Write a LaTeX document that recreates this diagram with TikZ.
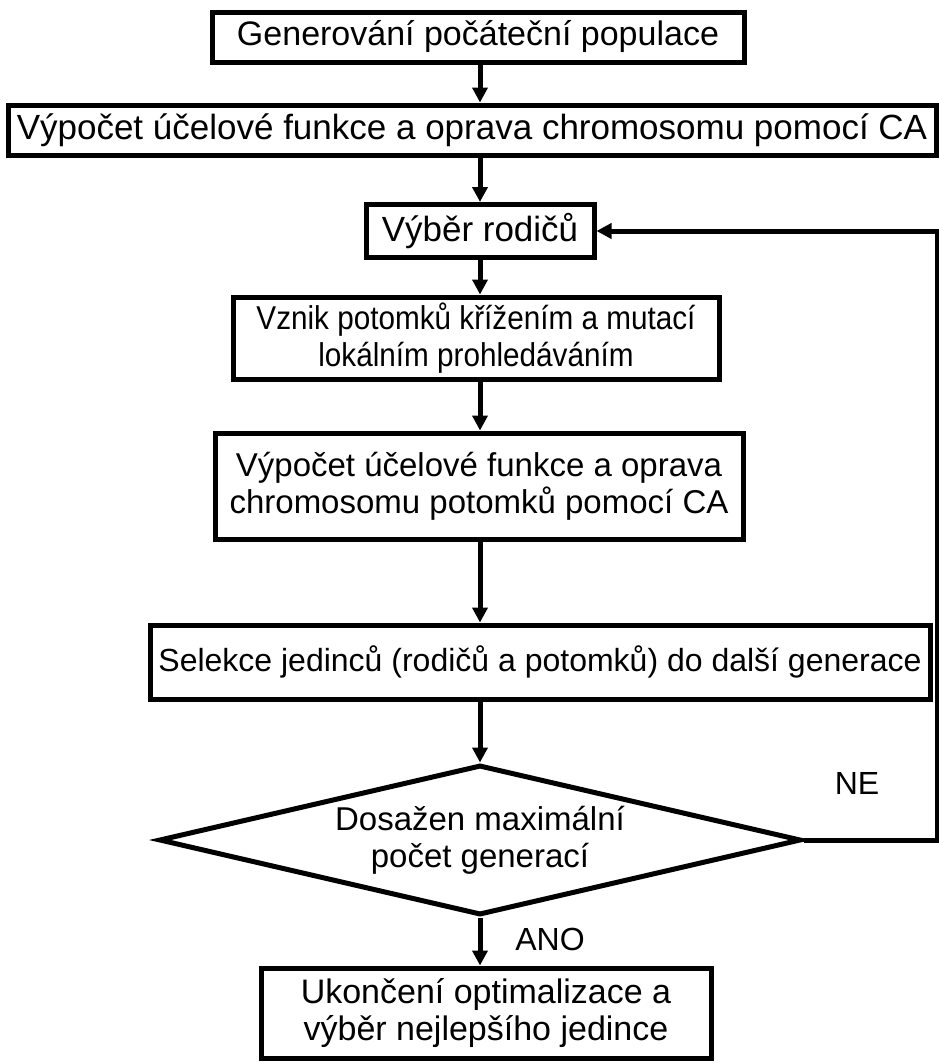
\documentclass[tikz,border=0pt]{standalone}
\usepackage{graphicx}
\usepackage{fontspec}
\setmainfont{Liberation Sans}
\usetikzlibrary{arrows.meta,shapes.geometric}

\newcommand{\fs}[1]{\fontsize{#1}{37}\selectfont}
% horizontally condensed line of text
\newcommand{\narrowline}[1]{\scalebox{0.9}[1]{#1}}

\tikzset{
  stepbox/.style={draw, line width=5pt, rectangle, inner sep=0pt, align=center,
    font=\fs{32}},
  decision/.style={draw, line width=5pt, diamond, inner sep=0pt, align=center,
    shape aspect=4.3, font=\fs{33}},
  flow/.style={line width=5pt, -{Triangle[width=15pt,length=15pt]}},
  tag/.style={inner sep=0pt, font=\fs{32}}
}

\begin{document}
\begin{tikzpicture}[x=1pt,y=-1pt]
\useasboundingbox (0,0) rectangle (939,1063);

\node[stepbox, minimum width=532pt, minimum height=50pt, font=\fs{34}] (init) at (478,37)
  {Generování počáteční populace};
\node[stepbox, minimum width=928pt, minimum height=50pt, font=\fs{35}] (eval) at (472,130)
  {Výpočet účelové funkce a oprava chromosomu pomocí CA};
\node[stepbox, minimum width=228pt, minimum height=53pt, font=\fs{35}] (parents) at (480,231)
  {Výběr rodičů};
\node[stepbox, minimum width=486pt, minimum height=82pt, font=\fs{33}] (offspring) at (476,338)
  {\narrowline{Vznik potomků křížením a mutací}\\\narrowline{lokálním prohledáváním}};
\node[stepbox, minimum width=528pt, minimum height=106pt, font=\fs{33}] (evaloff) at (479,486)
  {Výpočet účelové funkce a oprava\\chromosomu potomků pomocí CA};
\node[stepbox, minimum width=780pt, minimum height=74pt, font=\fs{32}] (select) at (540,662)
  {Selekce jedinců (rodičů a potomků) do další generace};
\node[decision, minimum width=642pt, minimum height=150pt] (stop) at (480,840)
  {Dosažen maximální\\počet generací};
\node[stepbox, minimum width=450pt, minimum height=90pt, font=\fs{34}] (final) at (486,1013)
  {Ukončení optimalizace a\\výběr nejlepšího jedince};

\coordinate (rail) at (937,0);
\coordinate (spine) at (480,0);

\draw[flow] (spine |- init.south) -- (spine |- eval.north);
\draw[flow] (spine |- eval.south) -- (spine |- parents.north);
\draw[flow] (spine |- parents.south) -- (spine |- offspring.north);
\draw[flow] (spine |- offspring.south) -- (spine |- evaloff.north);
\draw[flow] (spine |- evaloff.south) -- (spine |- select.north);
\draw[flow] (spine |- select.south) -- (stop.north);
\draw[flow] (stop.south) -- (stop.south |- final.north);
\draw[flow] (stop.east) -- (stop.east -| rail) |- (parents.east);

\node[tag] (ne) at (857,783) {NE};
\node[tag] (ano) at (550,939) {ANO};
\end{tikzpicture}
\end{document}
